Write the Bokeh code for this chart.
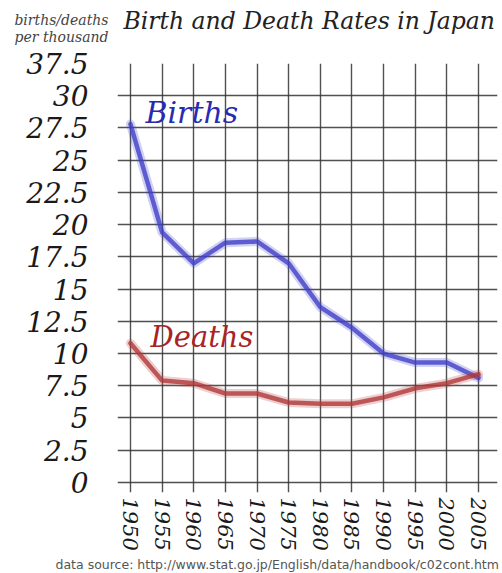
from bokeh.plotting import figure
from bokeh.layouts import column
from bokeh.models import Label, FixedTicker, Range1d, Title
from bokeh.embed import file_html
from bokeh.resources import INLINE

years = [1950, 1955, 1960, 1965, 1970, 1975, 1980, 1985, 1990, 1995, 2000, 2005]
births = [27.8, 19.4, 17.0, 18.6, 18.7, 17.0, 13.6, 12.0, 10.0, 9.3, 9.3, 8.1]
deaths = [10.8, 7.9, 7.7, 6.9, 6.9, 6.2, 6.1, 6.1, 6.6, 7.3, 7.7, 8.4]
y_ticks = [0, 2.5, 5, 7.5, 10, 12.5, 15, 17.5, 20, 22.5, 25, 27.5, 30, 32.5]
y_tick_labels = ["0", "2.5", "5", "7.5", "10", "12.5", "15", "17.5", "20",
                 "22.5", "25", "27.5", "30", "37.5"]
x_tick_labels = [str(y) for y in years]
unit_label = "births/deaths\nper thousand"
title_text = "Birth and Death Rates in Japan"
source_text = "data source: http://www.stat.go.jp/English/data/handbook/c02cont.htm"

SERIF = "DejaVu Serif"
W = 500
LEFT, RIGHT = 117, 3
HEAD_H = 45
MAIN_H = 528

# ---- header: frame spans page x 117..497, y 0..45 (page pixel coordinates) ----
head = figure(width=W, height=HEAD_H, x_range=Range1d(LEFT, W - RIGHT), y_range=Range1d(HEAD_H, 0),
              output_backend="svg", toolbar_location=None, x_axis_type=None,
              min_border_left=LEFT, min_border_right=RIGHT, min_border_top=0, min_border_bottom=0)
head.title.visible = False
head.outline_line_color = None
head.xgrid.visible = False
head.ygrid.visible = False
ya = head.yaxis[0]
ya.ticker = FixedTicker(ticks=[29])
ya.major_label_overrides = {29: unit_label}
ya.axis_line_color = None
ya.major_tick_line_color = None
ya.minor_tick_line_color = None
ya.major_tick_out = 0
ya.major_tick_in = 0
ya.major_label_standoff = 9
ya.major_label_text_font = SERIF
ya.major_label_text_font_style = "italic"
ya.major_label_text_font_size = "14px"
ya.major_label_text_color = "#444444"
ya.major_label_text_line_height = 1.07
head.add_layout(Label(x=123, y=20.5, text=title_text, text_font=SERIF,
                      text_font_style="italic", text_font_size="23.5px", text_color="#222222",
                      text_baseline="alphabetic"))

# ---- main chart ----
X0, X1 = 1947.95, 2008.0
Y0, Y1 = -0.78, 32.5
p = figure(width=W, height=MAIN_H, x_range=Range1d(X0, X1), y_range=Range1d(Y0, Y1),
           output_backend="svg", toolbar_location=None,
           min_border_left=LEFT, min_border_right=RIGHT, min_border_top=18, min_border_bottom=81)
p.title.visible = False
p.outline_line_color = None

p.xgrid.ticker = FixedTicker(ticks=years)
p.ygrid.ticker = FixedTicker(ticks=y_ticks)
for g in (p.xgrid, p.ygrid):
    g.grid_line_color = "#333333"
    g.grid_line_width = 1.4
    g.grid_line_alpha = 0.85

p.xaxis.ticker = FixedTicker(ticks=years)
p.yaxis.ticker = FixedTicker(ticks=y_ticks)
p.yaxis.major_label_overrides = dict(zip(y_ticks, y_tick_labels))
p.xaxis.major_label_overrides = dict(zip(years, x_tick_labels))
for ax in (p.xaxis, p.yaxis):
    ax.axis_line_color = None
    ax.major_tick_line_color = None
    ax.minor_tick_line_color = None
    ax.major_tick_out = 0
    ax.major_tick_in = 0
    ax.major_label_text_font = SERIF
    ax.major_label_text_font_style = "italic"
    ax.major_label_text_color = "#1a1a1a"
p.yaxis.major_label_text_font_size = "28px"
p.yaxis.major_label_standoff = 29
p.xaxis.major_label_text_font_size = "21px"
p.xaxis.major_label_orientation = "vertical"
p.xaxis.major_label_standoff = 5

p.line(years, births, line_color="#4848d0", line_width=9, line_alpha=0.25, line_join="round", line_cap="round")
p.line(years, births, line_color="#4040c8", line_width=4.5, line_alpha=0.8, line_join="round", line_cap="round")
p.line(years, deaths, line_color="#b84040", line_width=9, line_alpha=0.25, line_join="round", line_cap="round")
p.line(years, deaths, line_color="#b03838", line_width=4.5, line_alpha=0.8, line_join="round", line_cap="round")


def dx(px):
    return 1950 + (px - 130) * 55.0 / 348.0


def dy(py):
    return (482 - py) * 32.5 / 419.0


p.add_layout(Label(x=dx(145), y=dy(112), text="Births", text_font=SERIF, text_font_style="italic",
                   text_font_size="30px", text_color="#2a2ab0", text_baseline="alphabetic"))
p.add_layout(Label(x=dx(150), y=dy(337), text="Deaths", text_font=SERIF, text_font_style="italic",
                   text_font_size="29px", text_color="#a82424", text_baseline="alphabetic"))

p.add_layout(Title(text=source_text, align="left", offset=55 - LEFT, text_font="DejaVu Sans",
                   text_font_size="12.5px", text_font_style="normal", text_color="#555555",
                   standoff=3), "below")

layout = column(head, p, spacing=0)
open("out.html", "w").write(file_html(layout, INLINE))
